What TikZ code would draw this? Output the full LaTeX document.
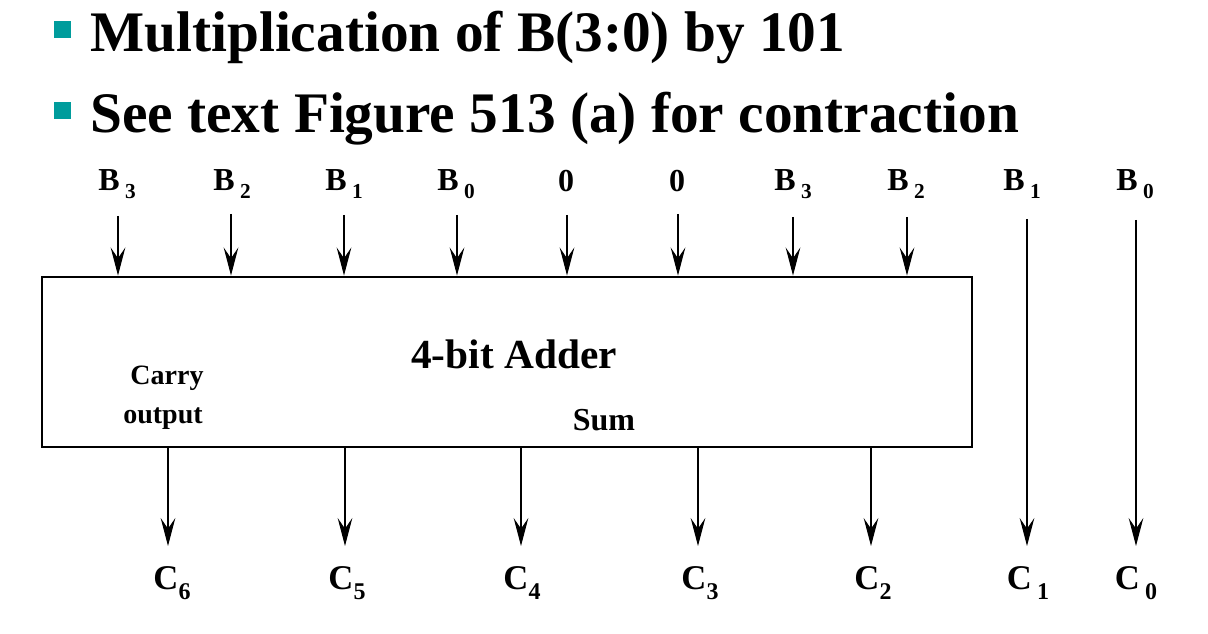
\documentclass[tikz,border=0pt]{standalone}
\usepackage{fontspec}
\setmainfont{Liberation Serif}
\usetikzlibrary{arrows.meta}
\definecolor{bullteal}{HTML}{009C9C}
\tikzset{
  title/.style={anchor=base west, inner sep=0pt, font=\fontsize{43}{50}\selectfont\bfseries},
  bullet/.style={fill=bullteal, draw=none},
  inlab/.style={inner sep=0pt, font=\fontsize{24}{28}\selectfont\bfseries},
  outlab/.style={inner sep=0pt, font=\fontsize{26}{30}\selectfont\bfseries},
  arr/.style={line width=0.8pt, -{Stealth[length=21pt, width=11pt, inset=8pt]}},
  adder/.style={draw, line width=2.2pt, rectangle, inner sep=0pt},
  boxtext/.style={inner sep=0pt, font=\fontsize{21}{25}\selectfont\bfseries},
}
\newcommand{\sub}[1]{\raisebox{-6pt}{\fontsize{16}{18}\selectfont #1}}
\newcommand{\csub}[1]{\raisebox{-7pt}{\fontsize{18}{20}\selectfont #1}}
\begin{document}
\begin{tikzpicture}[x=0.75pt, y=-0.75pt]
\useasboundingbox (0,0) rectangle (1208,634);
% bullets and titles
\fill[bullet] (54,21) rectangle (71,38);
\fill[bullet] (54,102) rectangle (71,119);
\node[title] (t1) at (90,52) {Multiplication of B(3:0) by 101};
\node[title] (t2) at (90,133) {See text Figure 513 (a) for contraction};
% adder box
\node[adder, minimum width=930*0.75pt, minimum height=170*0.75pt] (box) at (507,362) {};
\node[inner sep=0pt, font=\fontsize{31}{36}\selectfont\bfseries] (name) at (514,354) {4-bit Adder};
\node[boxtext] (carry) at (167,378) {Carry};
\node[boxtext] (output) at (163,419) {output};
\node[inner sep=0pt, font=\fontsize{24}{28}\selectfont\bfseries] (sum) at (604,420) {Sum};
% input labels
\node[inlab] (i1) at (117,184) {B\hspace{4pt}\sub{3}};
\node[inlab] (i2) at (232,184) {B\hspace{4pt}\sub{2}};
\node[inlab] (i3) at (344,184) {B\hspace{4pt}\sub{1}};
\node[inlab] (i4) at (456,184) {B\hspace{4pt}\sub{0}};
\node[inlab] (i5) at (566,181) {0};
\node[inlab] (i6) at (677,181) {0};
\node[inlab] (i7) at (793,184) {B\hspace{4pt}\sub{3}};
\node[inlab] (i8) at (906,184) {B\hspace{4pt}\sub{2}};
\node[inlab] (i9) at (1022,184) {B\hspace{4pt}\sub{1}};
\node[inlab] (i10) at (1135,184) {B\hspace{4pt}\sub{0}};
% input arrow starts
\coordinate (a1) at (118,216);
\coordinate (a2) at (231,214);
\coordinate (a3) at (344,215);
\coordinate (a4) at (457,215);
\coordinate (a5) at (567,215);
\coordinate (a6) at (678,214);
\coordinate (a7) at (793,217);
\coordinate (a8) at (907,217);
\coordinate (a9) at (1027,219);
\coordinate (a10) at (1136,220);
\foreach \i in {1,...,8} {\draw[arr] (a\i) -- (a\i |- box.north);}
% output labels
\node[outlab] (o6) at (172,583) {C\csub{6}};
\node[outlab] (o5) at (347,583) {C\csub{5}};
\node[outlab] (o4) at (522,583) {C\csub{4}};
\node[outlab] (o3) at (700,583) {C\csub{3}};
\node[outlab] (o2) at (873,583) {C\csub{2}};
\node[outlab] (o1) at (1028,583) {C\hspace{4pt}\csub{1}};
\node[outlab] (o0) at (1136,583) {C\hspace{4pt}\csub{0}};
% output arrow tips
\coordinate (e6) at (168,546);
\coordinate (e5) at (345,546);
\coordinate (e4) at (521,546);
\coordinate (e3) at (698,546);
\coordinate (e2) at (871,546);
\coordinate (e1) at (1027,546);
\coordinate (e0) at (1136,546);
\foreach \i in {6,5,4,3,2} {\draw[arr] (e\i |- box.south) -- (e\i);}
\draw[arr] (a9) -- (e1);
\draw[arr] (a10) -- (e0);
\end{tikzpicture}
\end{document}
